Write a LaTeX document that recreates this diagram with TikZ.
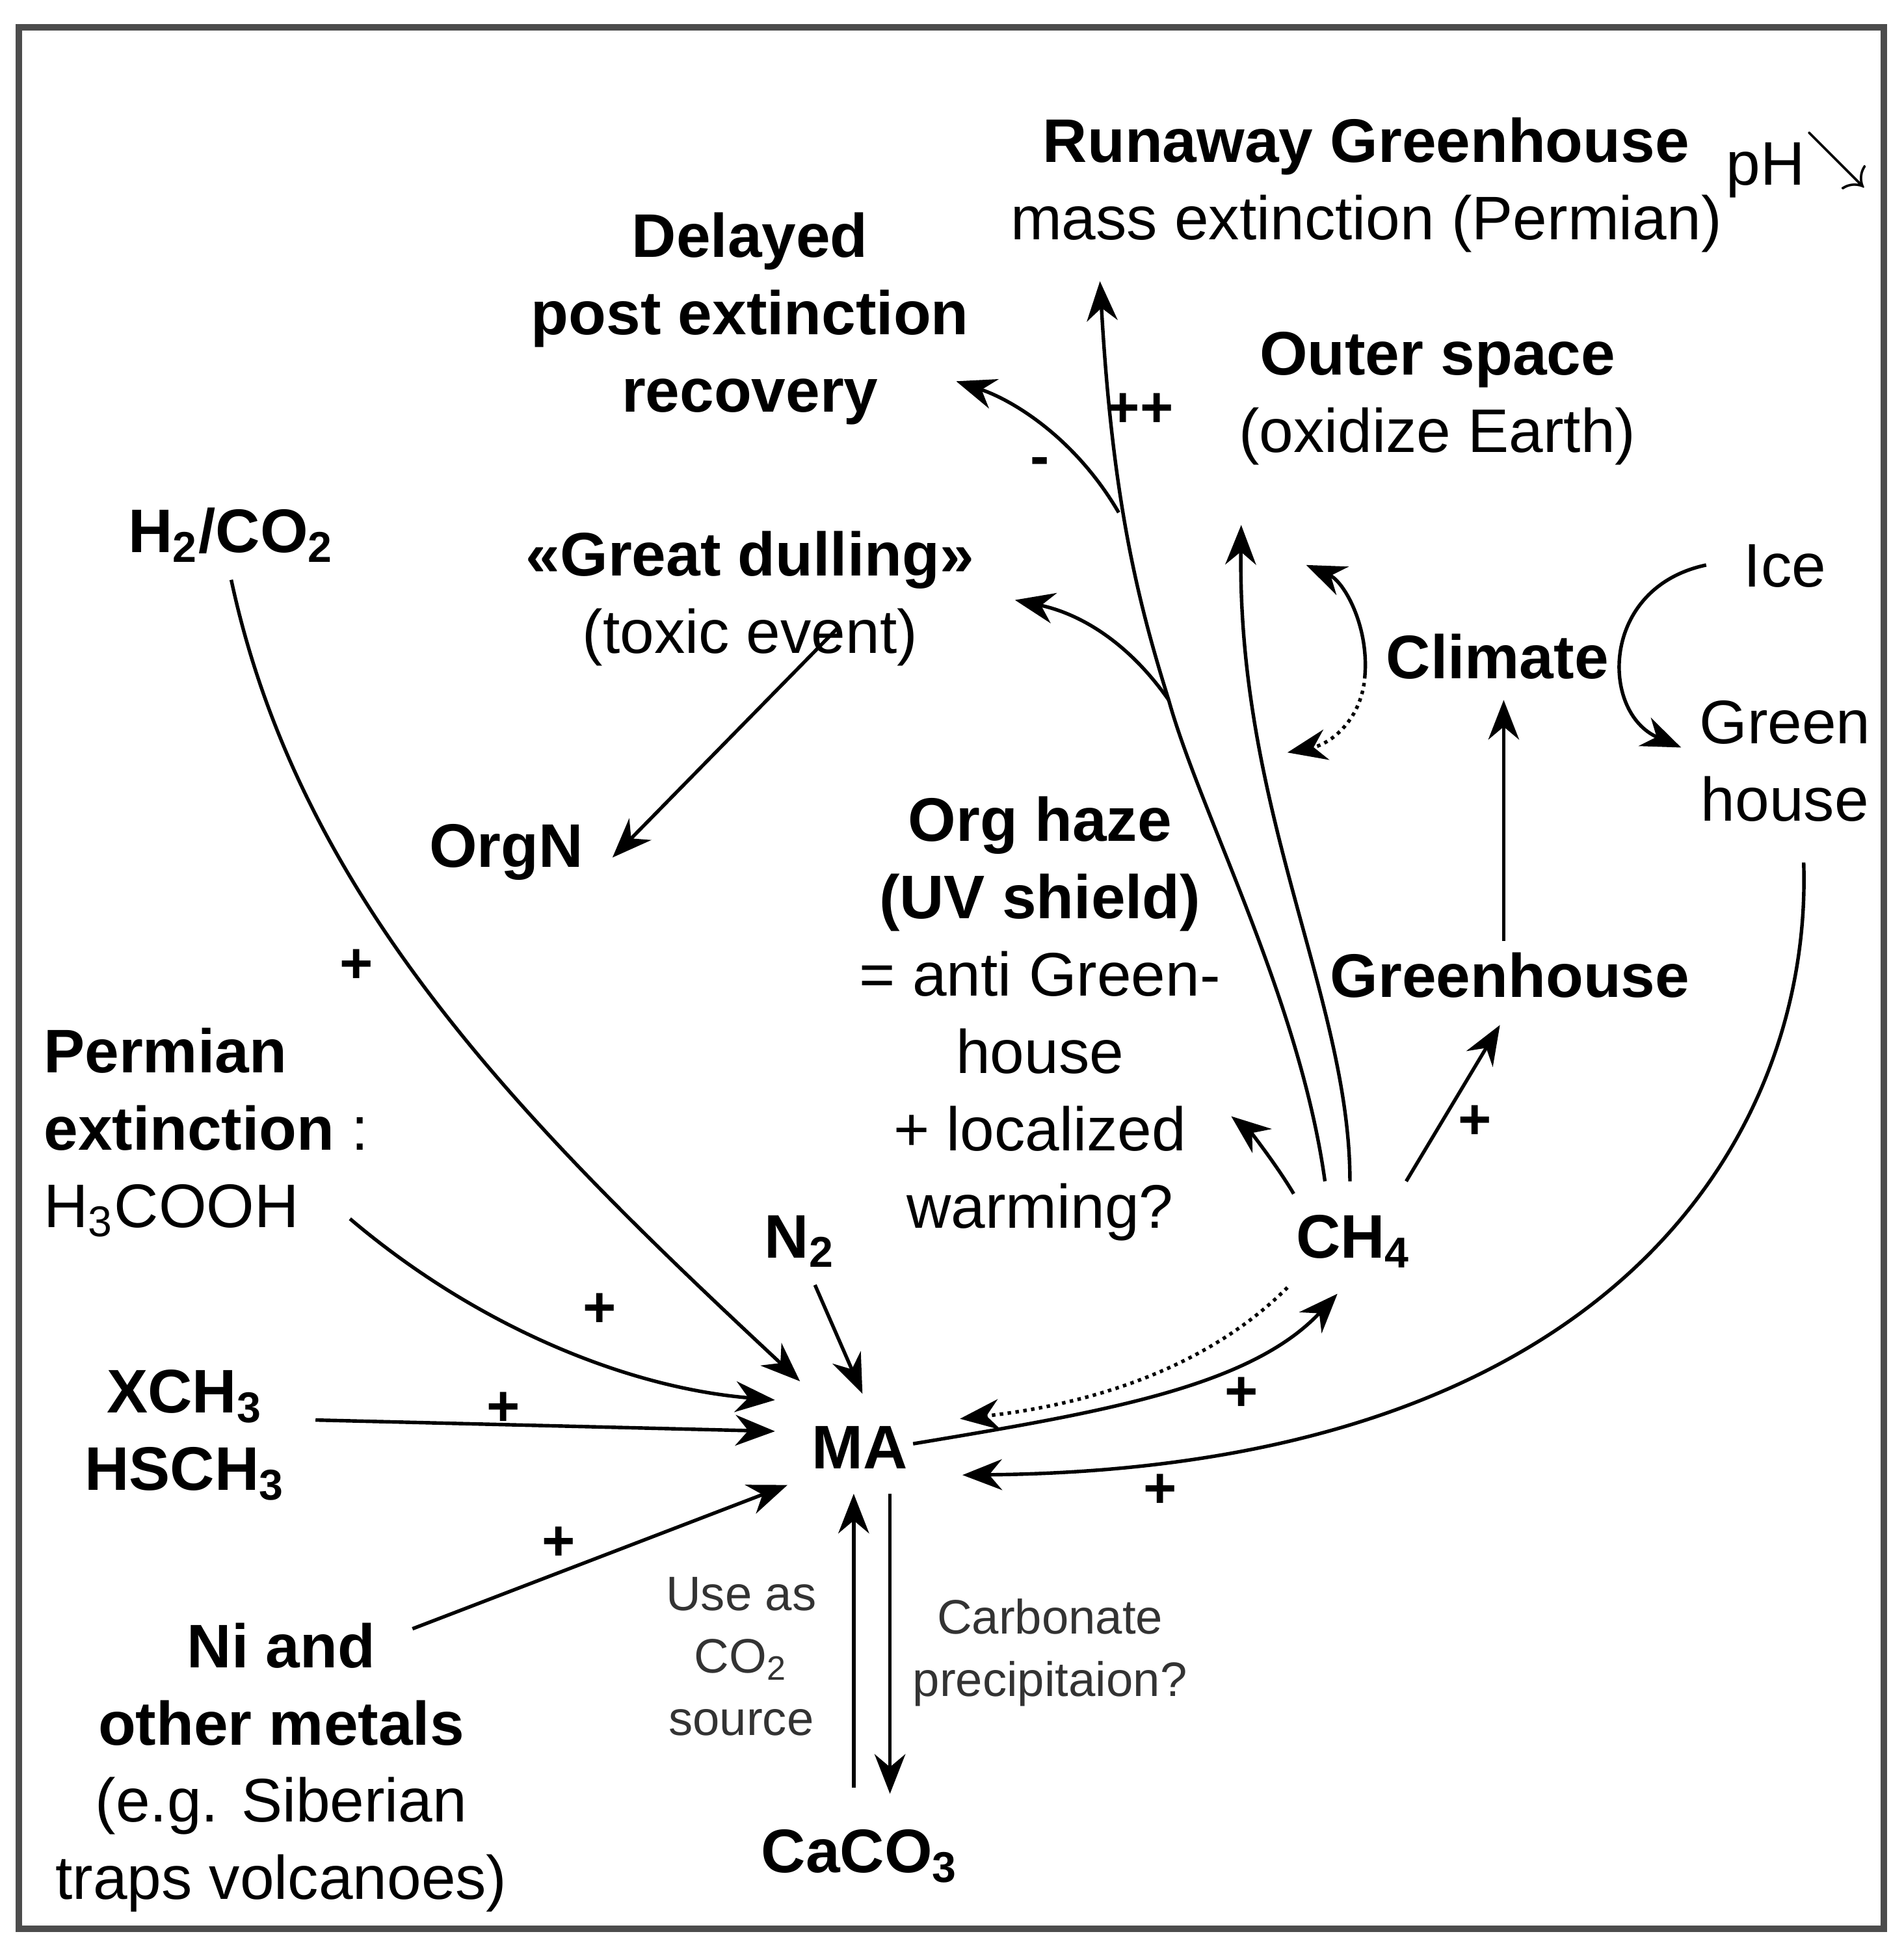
\documentclass[tikz,border=0pt]{standalone}
\usepackage{fontspec}
\setmainfont{Liberation Sans}
\usetikzlibrary{arrows.meta}

\begin{document}
\begin{tikzpicture}[x=0.01cm,y=-0.01cm,
  lbl/.style={font=\fontsize{14}{17.6}\selectfont,align=center,inner sep=1pt},
  bld/.style={lbl,font=\fontsize{14}{17.6}\selectfont\bfseries},
  sml/.style={font=\fontsize{11}{14.2}\selectfont,align=center,inner sep=1pt,text=black!80},
  sgn/.style={font=\fontsize{13}{15}\selectfont\bfseries,inner sep=0pt},
  arr/.style={-{Stealth[length=9pt,width=7pt]},line width=0.8pt},
  darr/.style={arr,densely dotted}]
\useasboundingbox (0,0) rectangle (1523,1568);
\draw[line width=1.5pt,black!70] (15,22) rectangle (1507,1543);

% top outcomes
\node (runaway) [lbl] at (1093,148) {\textbf{Runaway Greenhouse}\\mass extinction (Permian)};
\node (ph) [lbl] at (1438,132) {pH\raisebox{2pt}{$\searrow$}};
\node (delayed) [bld] at (600,255) {Delayed\\post extinction\\recovery};
\node (outer) [lbl] at (1150,319) {\textbf{Outer space}\\(oxidize Earth)};
\node (dulling) [lbl] at (600,479) {\textbf{«Great dulling»}\\(toxic event)};

% climate
\node (climate) [bld] at (1198,525) {Climate};
\node (ice) [lbl] at (1428,453) {Ice};
\node (greenh) [lbl] at (1428,609) {Green\\house};
\node (greenhouse) [bld] at (1208,780) {Greenhouse};

% middle
\node (orgn) [bld] at (405,682) {OrgN};
\node (haze) [lbl] at (832,815) {\textbf{Org haze}\\\textbf{(UV shield)}\\= anti Green-\\house\\+ localized\\warming?};
\node (ch4) [bld] at (1083,993) {CH\textsubscript{4}};
\node (h2) [bld] at (185,428) {H\textsubscript{2}/CO\textsubscript{2}};
\node (permian) [lbl,align=left] at (165,906) {\textbf{Permian}\\\textbf{extinction} :\\H\textsubscript{3}COOH};
\node (n2) [bld] at (640,993) {N\textsubscript{2}};
\node (xch3) [bld] at (148,1148) {XCH\textsubscript{3}\\HSCH\textsubscript{3}};
\node (ma) [bld] at (688,1158) {MA};
\node (ni) [lbl] at (225,1414) {\textbf{Ni and}\\\textbf{other metals}\\(e.g. Siberian\\traps volcanoes)};
\node (caco3) [bld] at (688,1485) {CaCO\textsubscript{3}};
\node (use) [sml] at (593,1325) {Use as\\CO\textsubscript{2}\\source};
\node (carb) [sml] at (840,1322) {Carbonate\\precipitaion?};

% inputs to MA
\draw[arr] (h2.south) ++(0,10) .. controls (240,720) and (420,900) .. (640,1105);
\node[sgn] at (285,773) {+};
\draw[arr] (280,975) .. controls (380,1060) and (500,1110) .. (620,1120);
\node[sgn] at (480,1048) {+};
\draw[arr] (xch3.east) ++(20,-12) -- (620,1145);
\node[sgn] at (403,1127) {+};
\draw[arr] (330,1303) -- (630,1188);
\node[sgn] at (447,1235) {+};
\draw[arr] (n2.south) ++(12,10) -- (690,1115);
\draw[arr] (ma.east) ++(0,-3) .. controls (880,1130) and (1000,1110) .. (1070,1035);
\node[sgn] at (993,1115) {+};
\draw[darr] (1030,1030) .. controls (960,1100) and (860,1125) .. (768,1135);
\draw[arr] (1443,690) .. controls (1450,900) and (1300,1175) .. (770,1180);
\node[sgn] at (928,1193) {+};
\draw[arr] (712,1195) -- (712,1435);
\draw[arr] (683,1430) -- (683,1195);

% CH4 outputs
\draw[arr] (1125,945) -- (1200,820);
\node[sgn] at (1180,898) {+};
\draw[arr] (1035,955) .. controls (1020,930) and (1000,905) .. (985,893);
\draw[arr] (haze.north west) ++(-12,-132) coordinate (h0) -- (490,686);
\draw[arr] (greenhouse.north) ++(-5,-5) -- (1203,560);
\draw[arr] (1080,945) .. controls (1080,800) and (990,650) .. (993,420);
\draw[line width=0.8pt] (1060,945) .. controls (1040,800) and (960,650) .. (935,560);
\draw[arr] (935,560) .. controls (910,480) and (890,400) .. (880,225);
\draw[arr] (935,560) .. controls (900,510) and (860,490) .. (812,480);
\draw[arr] (895,410) .. controls (860,350) and (810,320) .. (765,305);
\node[sgn] at (832,373) {-};
\node[sgn] at (912,328) {++};

% climate loops
\draw[arr] (1092,540) .. controls (1095,500) and (1075,465) .. (1045,452);
\draw[darr] (1092,540) .. controls (1090,575) and (1065,595) .. (1030,602);
\draw[arr] (1365,452) .. controls (1280,470) and (1280,570) .. (1345,598);
\end{tikzpicture}
\end{document}
